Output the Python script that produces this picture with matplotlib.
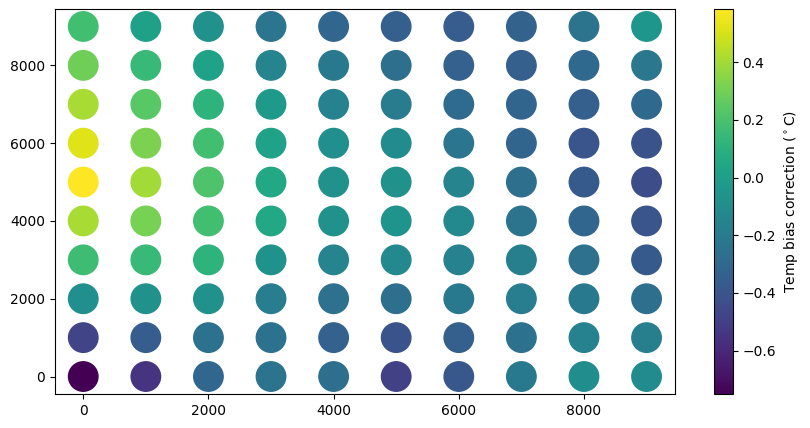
import numpy as np
import matplotlib
matplotlib.use("Agg")
import matplotlib.pyplot as plt

x_levels = [0, 1000, 2000, 3000, 4000, 5000, 6000, 7000, 8000, 9000]
y_levels = [0, 1000, 2000, 3000, 4000, 5000, 6000, 7000, 8000, 9000]

# bias per column (x), listed from y=0 up to y=9000
bias = {
    0:    [-0.75, -0.48, -0.09, 0.17, 0.41, 0.584, 0.52, 0.41, 0.29, 0.18],
    1000: [-0.55, -0.36, -0.08, 0.15, 0.31, 0.40, 0.32, 0.24, 0.15, 0.01],
    2000: [-0.31, -0.25, -0.08, 0.11, 0.18, 0.21, 0.18, 0.11, 0.02, -0.08],
    3000: [-0.24, -0.25, -0.19, -0.07, 0.05, 0.05, 0.02, -0.03, -0.15, -0.23],
    4000: [-0.27, -0.34, -0.26, -0.15, -0.08, -0.08, -0.09, -0.16, -0.21, -0.31],
    5000: [-0.49, -0.41, -0.27, -0.12, -0.06, -0.08, -0.11, -0.20, -0.27, -0.35],
    6000: [-0.39, -0.35, -0.21, -0.16, -0.12, -0.15, -0.23, -0.29, -0.34, -0.36],
    7000: [-0.21, -0.25, -0.19, -0.18, -0.24, -0.27, -0.32, -0.32, -0.35, -0.33],
    8000: [-0.10, -0.16, -0.21, -0.26, -0.31, -0.38, -0.40, -0.35, -0.30, -0.24],
    9000: [-0.11, -0.18, -0.27, -0.38, -0.40, -0.44, -0.41, -0.30, -0.22, -0.05],
}

xs, ys, cs = [], [], []
for xv in x_levels:
    for yv, c in zip(y_levels, bias[xv]):
        xs.append(xv)
        ys.append(yv)
        cs.append(c)

fig = plt.figure(figsize=(8.1, 4.28), dpi=100)
ax = fig.add_axes([0.068, 0.0794, 0.765, 0.8996])
cax = fig.add_axes([0.881, 0.0794, 0.0235, 0.8996])

sc = ax.scatter(xs, ys, c=cs, s=450, cmap="viridis")
cb = fig.colorbar(sc, cax=cax)
cb.set_label(r"Temp bias correction ($^\circ$C)")

fig.savefig("out.png", dpi=100)
